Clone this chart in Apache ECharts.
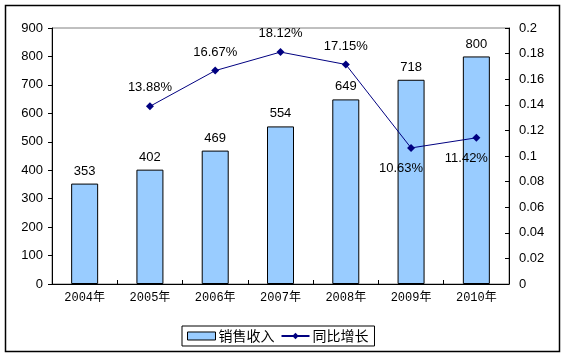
<!DOCTYPE html>
<html>
<head>
<meta charset="utf-8">
<script src="https://cdn.jsdelivr.net/npm/echarts@6/dist/echarts.min.js"></script>
<style>
html,body{margin:0;padding:0;background:#fff;}
#chart{width:567px;height:359px;}
</style>
</head>
<body>
<div id="chart"></div>
<script>
var categories = ['2004年','2005年','2006年','2007年','2008年','2009年','2010年'];
var salesRevenue = [353, 402, 469, 554, 649, 718, 800];
var growthRate = [null, 0.1388, 0.1667, 0.1812, 0.1715, 0.1063, 0.1142];
var growthLabels = ['', '13.88%', '16.67%', '18.12%', '17.15%', '10.63%', '11.42%'];
var leftTicks = {min: 0, max: 900, interval: 100};
var rightTicks = {min: 0, max: 0.2, interval: 0.02};

var chart = echarts.init(document.getElementById('chart'));
var lineData = growthRate.map(function (v, i) {
  if (v === null) return null;
  var below = (i >= 5);
  return {
    value: v,
    label: below
      ? {position: 'bottom', distance: 10, offset: [-10, 0]}
      : {position: 'top', distance: 8}
  };
});

chart.setOption({
  animation: false,
  graphic: [{
    type: 'rect',
    shape: {x: 5.5, y: 5.5, width: 554, height: 346},
    style: {fill: 'none', stroke: '#000', lineWidth: 1.5},
    z: 100
  }],
  grid: {
    left: 52, top: 28, right: 58, bottom: 75,
    show: true, borderColor: '#808080', borderWidth: 1, backgroundColor: 'transparent'
  },
  legend: {
    left: 182, top: 326,
    padding: [3, 6, 3, 5],
    itemGap: 6,
    borderColor: '#000', borderWidth: 1,
    itemWidth: 28, itemHeight: 8,
    textStyle: {fontFamily: 'Noto Sans CJK SC', fontSize: 14, color: '#000', padding: [0, 0, 0, -2]},
    data: [
      {name: '销售收入', icon: 'rect', itemStyle: {color: '#99CCFF', borderColor: '#000', borderWidth: 1}},
      {name: '同比增长'}
    ]
  },
  xAxis: {
    type: 'category',
    data: categories,
    axisLine: {lineStyle: {color: '#000', width: 1}},
    axisTick: {show: true, inside: true, length: 4, lineStyle: {color: '#000'}},
    axisLabel: {color: '#000', fontFamily: 'Liberation Mono, Noto Sans CJK SC', fontSize: 12, margin: 8}
  },
  yAxis: [{
    type: 'value',
    min: leftTicks.min, max: leftTicks.max, interval: leftTicks.interval,
    axisLine: {show: true, lineStyle: {color: '#000', width: 1}},
    axisTick: {show: true, length: 4, lineStyle: {color: '#000'}},
    splitLine: {show: false},
    axisLabel: {color: '#000', fontFamily: 'Liberation Sans, Arial', fontSize: 13, margin: 9}
  }, {
    type: 'value',
    min: rightTicks.min, max: rightTicks.max, interval: rightTicks.interval,
    position: 'right',
    axisLine: {show: true, lineStyle: {color: '#000', width: 1}},
    axisTick: {show: true, inside: true, length: 4, lineStyle: {color: '#000'}},
    splitLine: {show: false},
    axisLabel: {
      color: '#000', fontFamily: 'Liberation Sans, Arial', fontSize: 13, margin: 10,
      formatter: function (v) { return String(parseFloat(v.toFixed(2))); }
    }
  }],
  series: [{
    name: '销售收入',
    type: 'bar',
    data: salesRevenue,
    barWidth: 27,
    itemStyle: {color: '#99CCFF', borderColor: '#000', borderWidth: 1},
    label: {show: true, position: 'top', distance: 6, color: '#000', fontFamily: 'Liberation Sans, Arial', fontSize: 13},
    z: 2
  }, {
    name: '同比增长',
    type: 'line',
    yAxisIndex: 1,
    data: lineData,
    connectNulls: false,
    symbol: 'diamond',
    symbolSize: 8,
    lineStyle: {color: '#000080', width: 1},
    itemStyle: {color: '#000080'},
    label: {
      show: true, color: '#000', fontFamily: 'Liberation Sans, Arial', fontSize: 13,
      formatter: function (p) { return growthLabels[p.dataIndex]; }
    },
    z: 3
  }]
});
</script>
</body>
</html>
